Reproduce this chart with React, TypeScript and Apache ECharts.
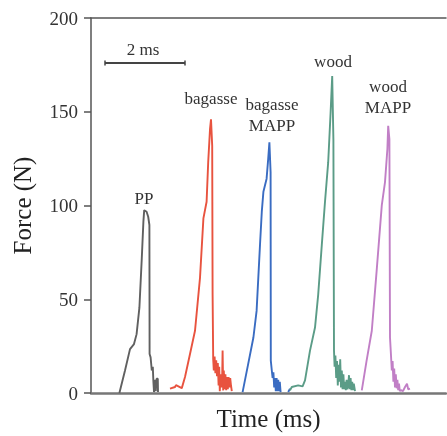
import React, { useEffect, useRef } from "react";
import * as echarts from "echarts";

const seriesNames = ["PP", "bagasse", "bagasse MAPP", "wood", "wood MAPP"];
const seriesColors = ["#606060", "#e8533f", "#3a6cc2", "#5b9c87", "#c17fc6"];

const ppTime = [0.71, 0.85, 0.975, 1.075, 1.14, 1.21, 1.27, 1.31, 1.33, 1.39, 1.43, 1.46, 1.465, 1.49, 1.52, 1.545, 1.56, 1.575, 1.6, 1.62, 1.64, 1.67, 1.675];
const ppForce = [0, 12.0, 23.4, 26.1, 31.4, 45.5, 72.0, 91.4, 97.5, 96.7, 94.0, 89.6, 20.8, 19.0, 12.0, 14.0, 6.0, 0.5, 7.0, 1.0, 7.6, 7.6, 0.5];

const bagTime = [1.975, 2.1, 2.125, 2.27, 2.35, 2.475, 2.6, 2.725, 2.81, 2.89, 2.93, 2.975, 3.0, 3.03, 3.04, 3.055, 3.07, 3.09, 3.11, 3.13, 3.15, 3.17, 3.19, 3.205, 3.22, 3.24, 3.26, 3.28, 3.29, 3.305, 3.32, 3.34, 3.36, 3.38, 3.4, 3.42, 3.44, 3.46, 3.48, 3.5, 3.52];
const bagForce = [2.3, 3.2, 4.2, 2.6, 8.5, 20.8, 33.2, 61.4, 93.1, 102.0, 123.1, 140.7, 146.0, 131.9, 52.5, 18.0, 12.0, 19.5, 10.5, 17.5, 9.0, 16.0, 4.0, 14.0, 1.0, 10.0, 3.0, 9.0, 22.6, 1.4, 12.0, 2.0, 10.0, 1.5, 8.5, 2.0, 8.5, 3.0, 8.0, 4.0, 1.0];

const bagMappTime = [3.79, 3.93, 4.06, 4.14, 4.225, 4.27, 4.31, 4.39, 4.43, 4.46, 4.49, 4.495, 4.52, 4.54, 4.56, 4.58, 4.6, 4.62, 4.64, 4.66, 4.68, 4.7, 4.72, 4.74, 4.8, 4.93, 4.975];
const bagMappForce: (number | null)[] = [0.5, 15.5, 29.6, 43.8, 79.0, 96.7, 107.3, 114.3, 124.9, 133.7, 117.8, 17.3, 12.0, 8.0, 11.0, 3.0, 8.0, 1.0, 8.0, 1.0, 7.0, 1.0, 6.0, 0.5, null, 0.5, 2.3];

const woodTime = [4.975, 5.02, 5.18, 5.29, 5.35, 5.475, 5.6, 5.68, 5.77, 5.85, 5.93, 5.99, 6.03, 6.06, 6.075, 6.09, 6.11, 6.13, 6.15, 6.17, 6.19, 6.21, 6.23, 6.25, 6.27, 6.29, 6.31, 6.33, 6.35, 6.37, 6.39, 6.41, 6.43, 6.45, 6.47, 6.49, 6.51, 6.53, 6.55, 6.57, 6.6];
const woodForce = [1.4, 3.2, 4.1, 3.5, 6.7, 22.6, 34.9, 52.5, 79.0, 102.0, 123.1, 149.6, 169.0, 135.4, 22.6, 14.0, 20.0, 8.0, 17.0, 4.0, 15.0, 6.0, 18.0, 3.0, 12.0, 2.0, 10.0, 2.0, 6.0, 1.5, 7.0, 2.0, 4.0, 9.5, 2.0, 8.0, 1.5, 6.0, 1.5, 5.0, 1.0];

const woodMappTime = [6.77, 6.89, 7.02, 7.14, 7.27, 7.35, 7.41, 7.43, 7.46, 7.475, 7.5, 7.52, 7.54, 7.56, 7.58, 7.6, 7.62, 7.64, 7.66, 7.68, 7.7, 7.72, 7.75, 7.8, 7.85, 7.9, 7.93, 7.975];
const woodMappForce = [1.4, 17.3, 33.2, 64.9, 100.2, 112.5, 130.2, 142.5, 135.4, 29.6, 20.0, 12.0, 17.0, 6.0, 13.0, 3.0, 10.0, 2.5, 7.0, 1.5, 5.0, 1.0, 1.5, 1.0, 3.2, 4.9, 2.0, 2.3];

const allTimes = [ppTime, bagTime, bagMappTime, woodTime, woodMappTime];
const allForces: (number | null)[][] = [ppForce, bagForce, bagMappForce, woodForce, woodMappForce];

const yTicks = [0, 50, 100, 150, 200];
const xMax = 8.875;
const scaleBarMs = 2;
const scaleBarLabel = "2 ms";

const serif = "'Liberation Serif', 'DejaVu Serif', serif";

export default function App() {
  const ref = useRef<HTMLDivElement>(null);
  useEffect(() => {
    if (!ref.current) return;
    const chart = echarts.init(ref.current, undefined, { renderer: "svg" });
    const series = seriesNames.map((name, i) => ({
      name,
      type: "line",
      showSymbol: false,
      connectNulls: false,
      lineStyle: { color: seriesColors[i], width: 1.9 },
      itemStyle: { color: seriesColors[i] },
      data: allTimes[i].map((t, j) => [t, allForces[i][j] === null ? "-" : allForces[i][j]]),
    }));
    const labelStyle = { fontFamily: serif, fontSize: 17, fill: "#333", textAlign: "center", textVerticalAlign: "middle", lineHeight: 21 } as any;
    chart.setOption({
      animation: false,
      grid: { left: 91, top: 18, right: 1, bottom: 40 },
      xAxis: [
        {
          type: "value",
          min: 0,
          max: xMax,
          position: "bottom",
          name: "Time (ms)",
          nameLocation: "middle",
          nameGap: 13,
          nameTextStyle: { fontFamily: serif, fontSize: 25, color: "#222", verticalAlign: "top" },
          axisLine: { show: true, lineStyle: { color: "#777", width: 2.5 } },
          axisTick: { show: false },
          axisLabel: { show: false },
          splitLine: { show: false },
        },
        {
          type: "value",
          min: 0,
          max: xMax,
          position: "top",
          axisLine: { show: true, lineStyle: { color: "#555", width: 1.5 } },
          axisTick: { show: false },
          axisLabel: { show: false },
          splitLine: { show: false },
        },
      ],
      yAxis: {
        type: "value",
        min: yTicks[0],
        max: yTicks[yTicks.length - 1],
        interval: 50,
        name: "Force (N)",
        nameLocation: "middle",
        nameGap: 56,
        nameTextStyle: { fontFamily: serif, fontSize: 25, color: "#222" },
        axisLine: { show: true, lineStyle: { color: "#555", width: 1.5 } },
        axisTick: { show: true, inside: false, length: 7, lineStyle: { color: "#555", width: 1.5 } },
        axisLabel: { fontFamily: serif, fontSize: 19, color: "#333", margin: 13 },
        splitLine: { show: false },
      },
      series,
      graphic: [
        { type: "line", shape: { x1: 105, y1: 63, x2: 105 + scaleBarMs * 40, y2: 63 }, style: { stroke: "#444", lineWidth: 2 } },
        { type: "line", shape: { x1: 105, y1: 60.5, x2: 105, y2: 65.5 }, style: { stroke: "#444", lineWidth: 1.5 } },
        { type: "line", shape: { x1: 185, y1: 60.5, x2: 185, y2: 65.5 }, style: { stroke: "#444", lineWidth: 1.5 } },
        { type: "text", x: 143, y: 49, style: { ...labelStyle, text: scaleBarLabel, fontSize: 17 } },
        { type: "text", x: 144, y: 198, style: { ...labelStyle, text: "PP" } },
        { type: "text", x: 211, y: 98, style: { ...labelStyle, text: "bagasse" } },
        { type: "text", x: 272, y: 115, style: { ...labelStyle, text: "bagasse\nMAPP" } },
        { type: "text", x: 333, y: 61, style: { ...labelStyle, text: "wood" } },
        { type: "text", x: 388, y: 97, style: { ...labelStyle, text: "wood\nMAPP" } },
      ],
    });
    return () => chart.dispose();
  }, []);
  return <div ref={ref} style={{ position: "fixed", left: 0, top: 0, width: 447, height: 436 }} />;
}
